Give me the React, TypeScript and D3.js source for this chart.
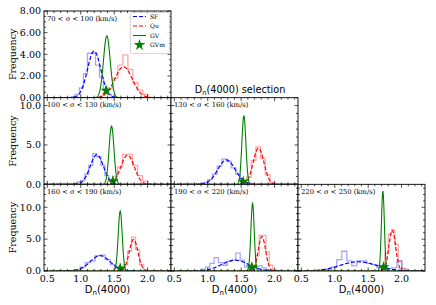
import React from "react";
import * as d3 from "d3";

const W = 436;
const H = 305;

// ---- data ----
const panelLabels = [
  "70 < σ < 100 (km/s)",
  "100 < σ < 130 (km/s)",
  "130 < σ < 160 (km/s)",
  "160 < σ < 190 (km/s)",
  "190 < σ < 220 (km/s)",
  "220 < σ < 250 (km/s)",
];
// Gaussian fits: centre, width, peak height
const sfMu = [1.2, 1.24, 1.28, 1.29, 1.41, 1.35];
const sfSigma = [0.1, 0.1, 0.13, 0.15, 0.2, 0.27];
const sfPeak = [4.3, 3.75, 3.1, 2.4, 1.7, 1.45];
const quMu = [1.64, 1.7, 1.76, 1.79, 1.81, 1.86];
const quSigma = [0.13, 0.1, 0.08, 0.065, 0.055, 0.05];
const quPeak = [2.85, 3.7, 4.6, 4.95, 5.4, 6.4];
const gvMu = [1.39, 1.46, 1.54, 1.59, 1.67, 1.72];
const gvSigma = [0.05, 0.037, 0.03, 0.03, 0.025, 0.022];
const gvPeak = [5.7, 7.4, 8.7, 9.4, 10.6, 12.5];
const gvmX = [1.38, 1.48, 1.53, 1.59, 1.66, 1.73];
const gvmY = [0.65, 0.4, 0.35, 0.4, 0.6, 0.6];

// histograms (step outlines)
const sfHistStart = [0.86, 0.88, 0.86, 0.84, 0.9, 0.88];
const sfHistWidth = [0.06, 0.06, 0.07, 0.075, 0.065, 0.075];
const sfHistCounts = [
  [0.1, 0.3, 0.9, 2.2, 4.1, 4.1, 3.0, 1.9, 0.8, 0.3, 0.1],
  [0.1, 0.3, 0.5, 1.3, 2.4, 3.9, 3.5, 2.4, 1.1, 0.4, 0.1],
  [0.1, 0.25, 0.6, 1.3, 2.3, 3.2, 2.9, 2.1, 1.3, 0.5, 0.2],
  [0.05, 0.2, 0.6, 1.3, 1.6, 2.4, 2.5, 1.8, 1.0, 0.5, 0.2, 0.05],
  [0.3, 0.6, 1.2, 2.1, 1.3, 0.9, 1.5, 1.7, 2.8, 1.7, 0.6, 0.5, 0.4, 0.8, 0.5, 0.2],
  [0.3, 0.6, 1.8, 3.1, 1.6, 0.8, 1.6, 1.6, 1.2, 1.0, 0.5, 0.6, 0.4, 0.5, 1.6, 0.3],
];
const quHistStart = [1.33, 1.4, 1.51, 1.58, 1.67, 1.7];
const quHistWidth = [0.075, 0.075, 0.07, 0.06, 0.05, 0.05];
const quHistCounts = [
  [0.4, 0.9, 1.8, 3.0, 3.95, 2.6, 1.4, 0.7, 0.3],
  [0.4, 1.0, 2.2, 3.8, 3.8, 2.4, 1.1, 0.4],
  [0.2, 0.9, 3.0, 4.75, 3.3, 1.2, 0.2],
  [0.2, 1.0, 3.1, 5.3, 3.4, 1.0, 0.2],
  [0.6, 2.4, 5.6, 5.6, 3.0, 0.9, 0.2],
  [0.8, 2.8, 5.8, 6.4, 4.2, 1.6, 0.4],
];

const xDomain = [0.45, 2.35];
const xTicks = [0.5, 1.0, 1.5, 2.0];
const xMinorTicks = [0.6, 0.7, 0.8, 0.9, 1.1, 1.2, 1.3, 1.4, 1.6, 1.7, 1.8, 1.9, 2.1, 2.2, 2.3];
const yMaxRow = [8, 11, 13.6];
const yTicksRow = [
  [0, 2, 4, 6, 8],
  [0, 5, 10],
  [0, 5, 10],
];
const yMinorStepRow = [0.5, 1, 1];
const yFormatRow = [".2f", ".1f", ".1f"];
const legendNames = ["SF", "Qu", "GV", "GVm"];

// ---- layout ----
const cells: [number, number][] = [
  [0, 0],
  [1, 0],
  [1, 1],
  [2, 0],
  [2, 1],
  [2, 2],
];
const colX = [44, 171, 298];
const PW = 127;
const rowTop = [11, 97.67, 184.33];
const PH = 86.67;

const SERIF = "DejaVu Serif";
const SANS = "DejaVu Sans";

function stepPath(start: number, width: number, counts: number[], x: any, y: any) {
  let p = `M${x(start)},${y(0)}`;
  counts.forEach((c, i) => {
    const a = start + i * width;
    p += `L${x(a)},${y(c)}L${x(a + width)},${y(c)}`;
  });
  p += `L${x(start + counts.length * width)},${y(0)}`;
  return p;
}

function gaussPath(mu: number, s: number, peak: number, x: any, y: any) {
  const xs = d3.range(xDomain[0], xDomain[1] + 0.0001, 0.004);
  const line = d3
    .line<number>()
    .x((v) => x(v))
    .y((v) => y(peak * Math.exp(-0.5 * ((v - mu) / s) ** 2)));
  return line(xs) as string;
}

const star = d3.symbol().type(d3.symbolStar).size(42)() as string;

function Panel({ i }: { i: number }) {
  const [r, c] = cells[i];
  const x0 = colX[c];
  const top = rowTop[r];
  const bottom = top + PH;
  const x = d3.scaleLinear().domain(xDomain).range([x0, x0 + PW]);
  const y = d3.scaleLinear().domain([0, yMaxRow[r]]).range([bottom, top]);
  const yMinor = d3
    .range(0, yMaxRow[r] + 0.001, yMinorStepRow[r])
    .filter((v) => !yTicksRow[r].some((t) => Math.abs(t - v) < 1e-6));
  const fmt = d3.format(yFormatRow[r]);
  const clipId = `clip${i}`;
  const MJ = 3.5;
  const MN = 2;
  return (
    <g>
      <defs>
        <clipPath id={clipId}>
          <rect x={x0} y={top} width={PW} height={PH} />
        </clipPath>
      </defs>
      <rect x={x0} y={top} width={PW} height={PH} fill="white" />
      <g clipPath={`url(#${clipId})`}>
        <path
          d={stepPath(sfHistStart[i], sfHistWidth[i], sfHistCounts[i], x, y)}
          fill="none"
          stroke="#0000ff"
          strokeOpacity={0.35}
          strokeWidth={1.3}
        />
        <path
          d={stepPath(quHistStart[i], quHistWidth[i], quHistCounts[i], x, y)}
          fill="none"
          stroke="#ff0000"
          strokeOpacity={0.35}
          strokeWidth={1.3}
        />
        <path
          d={gaussPath(sfMu[i], sfSigma[i], sfPeak[i], x, y)}
          fill="none"
          stroke="#0000ff"
          strokeWidth={1.2}
          strokeDasharray="4,2"
        />
        <path
          d={gaussPath(quMu[i], quSigma[i], quPeak[i], x, y)}
          fill="none"
          stroke="#ff0000"
          strokeWidth={1.2}
          strokeDasharray="4,2"
        />
        <path
          d={gaussPath(gvMu[i], gvSigma[i], gvPeak[i], x, y)}
          fill="none"
          stroke="#008000"
          strokeWidth={1.1}
        />
        <path d={star} transform={`translate(${x(gvmX[i])},${y(gvmY[i])})`} fill="#008000" />
      </g>
      {/* ticks */}
      <g stroke="black" strokeWidth={0.7}>
        {xTicks.map((t) => (
          <g key={`xt${t}`}>
            <line x1={x(t)} x2={x(t)} y1={bottom} y2={bottom - MJ} />
            <line x1={x(t)} x2={x(t)} y1={top} y2={top + MJ} />
          </g>
        ))}
        {xMinorTicks.map((t) => (
          <g key={`xm${t}`}>
            <line x1={x(t)} x2={x(t)} y1={bottom} y2={bottom - MN} />
            <line x1={x(t)} x2={x(t)} y1={top} y2={top + MN} />
          </g>
        ))}
        {yTicksRow[r].map((t) => (
          <g key={`yt${t}`}>
            <line x1={x0} x2={x0 + MJ} y1={y(t)} y2={y(t)} />
            <line x1={x0 + PW} x2={x0 + PW - MJ} y1={y(t)} y2={y(t)} />
          </g>
        ))}
        {yMinor.map((t) => (
          <g key={`ym${t}`}>
            <line x1={x0} x2={x0 + MN} y1={y(t)} y2={y(t)} />
            <line x1={x0 + PW} x2={x0 + PW - MN} y1={y(t)} y2={y(t)} />
          </g>
        ))}
      </g>
      <rect x={x0} y={top} width={PW} height={PH} fill="none" stroke="black" strokeWidth={0.9} />
      <text x={x0 + 3} y={top + 9.5} fontFamily={SERIF} fontSize={6.8} fill="black">
        {panelLabels[i]}
      </text>
      {c === 0 &&
        yTicksRow[r].map((t) => (
          <text
            key={`yl${t}`}
            x={x0 - 3}
            y={y(t)}
            dy="0.35em"
            textAnchor="end"
            fontFamily={SERIF}
            fontSize={9.5}
            fill="black"
          >
            {fmt(t)}
          </text>
        ))}
      {r === 2 &&
        xTicks.map((t) => (
          <text
            key={`xl${t}`}
            x={x(t)}
            y={bottom + 11}
            textAnchor="middle"
            fontFamily={SERIF}
            fontSize={9.5}
            fill="black"
          >
            {d3.format(".1f")(t)}
          </text>
        ))}
      {r === 2 && (
        <text x={x0 + PW / 2} y={bottom + 22} textAnchor="middle" fontFamily={SANS} fontSize={10} fill="black">
          D<tspan fontSize={7} dy={2}>n</tspan>
          <tspan dy={-2}>(4000)</tspan>
        </text>
      )}
      {c === 0 && (
        <text
          transform={`translate(13,${(top + bottom) / 2}) rotate(-90)`}
          textAnchor="middle"
          dy="0.35em"
          fontFamily={SERIF}
          fontSize={9.5}
          fill="black"
        >
          Frequency
        </text>
      )}
    </g>
  );
}

function Legend() {
  const lx = 130.5;
  const ly = 12.5;
  const rows = [16.5, 26, 35.5, 45];
  return (
    <g>
      <rect x={lx} y={ly} width={39} height={41} rx={2} fill="white" fillOpacity={0.85} stroke="#cccccc" strokeWidth={0.8} />
      <line x1={133} x2={146} y1={rows[0]} y2={rows[0]} stroke="#0000ff" strokeWidth={1.2} strokeDasharray="4,2" />
      <line x1={133} x2={146} y1={rows[1]} y2={rows[1]} stroke="#ff0000" strokeWidth={1.2} strokeDasharray="4,2" />
      <line x1={133} x2={146} y1={rows[2]} y2={rows[2]} stroke="#008000" strokeWidth={1.1} />
      <path d={star} transform={`translate(139.5,${rows[3]})`} fill="#008000" />
      {legendNames.map((n, k) => (
        <text key={n} x={150} y={rows[k]} dy="0.35em" fontFamily={SERIF} fontSize={6} fill="black">
          {n}
        </text>
      ))}
    </g>
  );
}

export default function App() {
  return (
    <svg
      width={W}
      height={H}
      viewBox={`0 0 ${W} ${H}`}
      style={{ position: "absolute", left: 0, top: 0, background: "white" }}
    >
      <rect x={0} y={0} width={W} height={H} fill="white" />
      {panelLabels.map((_, i) => (
        <Panel key={i} i={i} />
      ))}
      <Legend />
      <text x={240} y={92.5} textAnchor="middle" fontFamily={SANS} fontSize={9.7} fill="black">
        D<tspan fontSize={6.8} dy={2}>n</tspan>
        <tspan dy={-2}>(4000) selection</tspan>
      </text>
    </svg>
  );
}
